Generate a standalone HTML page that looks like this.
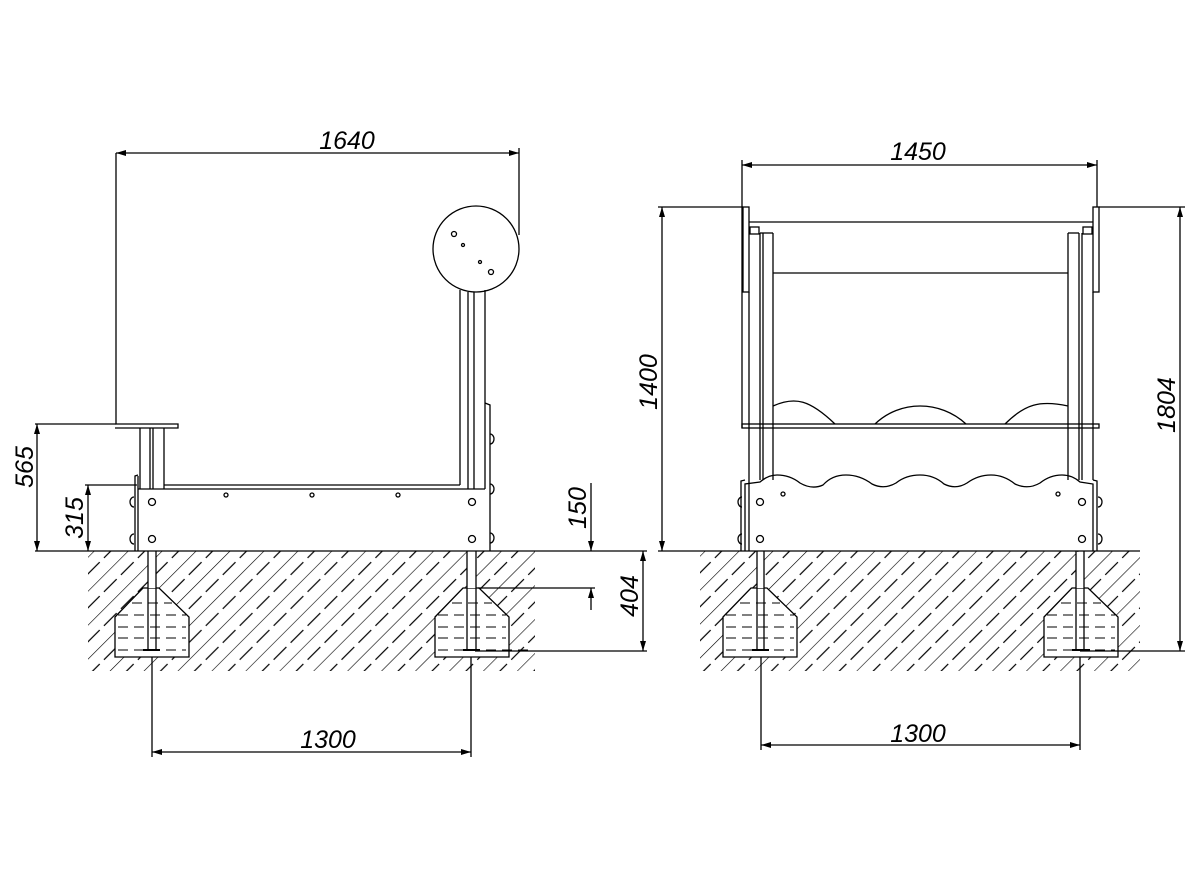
<!DOCTYPE html>
<html><head><meta charset="utf-8"><style>
html,body{margin:0;padding:0;background:#fff}
svg{display:block}
text{font-family:"Liberation Sans",sans-serif;font-style:italic;font-size:25px;fill:#000}
</style></head><body>
<svg width="1200" height="895" viewBox="0 0 1200 895" xmlns="http://www.w3.org/2000/svg">
<defs>
<pattern id="h" width="24" height="24" patternUnits="userSpaceOnUse" patternTransform="rotate(45)">
<line x1="0" y1="0" x2="0" y2="24" stroke="#000" stroke-width="1.2"/>
<line x1="12" y1="0" x2="12" y2="24" stroke="#000" stroke-width="1.2" stroke-dasharray="9 6"/>
</pattern>
<marker id="a" viewBox="0 0 10 6" refX="10" refY="3" markerWidth="10" markerHeight="6" orient="auto-start-reverse" markerUnits="userSpaceOnUse"><path d="M0,0 L10,3 L0,6 z" fill="#000"/></marker>
</defs>
<g stroke="#000" stroke-width="1.3" fill="none">
<!-- hatch regions -->
<rect x="88" y="551" width="447" height="120" fill="url(#h)" stroke="none"/>
<rect x="700" y="551" width="440" height="120" fill="url(#h)" stroke="none"/>
<!-- ground lines -->
<line x1="35" y1="551" x2="647" y2="551"/>
<line x1="658" y1="551" x2="1140" y2="551"/>

<!-- LEFT VIEW -->
<!-- footings -->
<g fill="#fff">
<polygon points="115,617 143,588 159,588 189,617 189,657 115,657"/>
<polygon points="435,617 463,588 479,588 509,617 509,657 435,657"/>
<rect x="148" y="552" width="8" height="36" stroke="none"/>
<rect x="467" y="552" width="9" height="36" stroke="none"/>
</g>
<g stroke-dasharray="10 6" stroke-width="1">
<line x1="132" y1="603" x2="172" y2="603"/><line x1="118" y1="615" x2="186" y2="615"/>
<line x1="118" y1="627" x2="186" y2="627"/><line x1="118" y1="638" x2="186" y2="638"/><line x1="118" y1="650" x2="186" y2="650"/>
<line x1="452" y1="603" x2="492" y2="603"/><line x1="438" y1="615" x2="506" y2="615"/>
<line x1="438" y1="627" x2="506" y2="627"/><line x1="438" y1="638" x2="506" y2="638"/><line x1="438" y1="650" x2="530" y2="650"/>
</g>
<line x1="148" y1="551" x2="148" y2="650"/><line x1="156" y1="551" x2="156" y2="650"/>
<line x1="143" y1="650" x2="160" y2="650" stroke-width="2"/>
<line x1="467" y1="551" x2="467" y2="650"/><line x1="476" y1="551" x2="476" y2="650"/>
<line x1="463" y1="650" x2="480" y2="650" stroke-width="2"/>
<!-- circle -->
<circle cx="476" cy="249" r="43"/>
<circle cx="454" cy="234" r="2.5"/><circle cx="463" cy="245" r="1.5"/><circle cx="480" cy="262" r="1.5"/><circle cx="491" cy="272" r="2.5"/>
<!-- posts -->
<line x1="460" y1="290" x2="460" y2="485"/><line x1="468" y1="292" x2="468" y2="489"/><line x1="474" y1="292" x2="474" y2="489"/><line x1="485" y1="290" x2="485" y2="489"/>
<polyline points="485,403 490,405 490,551"/>
<path d="M490,434 a4,5 0 0 1 0,10 M490,484 a4,5 0 0 1 0,10 M490,533 a4,5 0 0 1 0,10"/>
<!-- seat -->
<polyline points="116,153 116,424 178,424 178,428 115,428"/>
<line x1="140" y1="428" x2="140" y2="489"/><line x1="150" y1="428" x2="150" y2="489"/><line x1="153" y1="428" x2="153" y2="489"/><line x1="164" y1="428" x2="164" y2="489"/>
<!-- box -->
<polyline points="135,551 135,476 138,475"/>
<line x1="138" y1="476" x2="138" y2="551"/>
<path d="M134,497 a4,5 0 0 0 0,10 M134,534 a4,5 0 0 0 0,10"/>
<line x1="138" y1="489" x2="485" y2="489"/>
<line x1="164" y1="485" x2="460" y2="485"/>
<circle cx="152" cy="502" r="3.5"/><circle cx="152" cy="539" r="3.5"/><circle cx="472" cy="502" r="3.5"/><circle cx="472" cy="539" r="3.5"/>
<circle cx="226" cy="495" r="2"/><circle cx="312" cy="495" r="2"/><circle cx="398" cy="495" r="2"/>
<!-- left dims -->
<line x1="116" y1="153" x2="519" y2="153" marker-start="url(#a)" marker-end="url(#a)"/>
<line x1="519" y1="148" x2="519" y2="235"/>
<line x1="35" y1="424" x2="116" y2="424"/>
<line x1="37" y1="424" x2="37" y2="551" marker-start="url(#a)" marker-end="url(#a)"/>
<line x1="85" y1="485" x2="137" y2="485"/>
<line x1="88" y1="485" x2="88" y2="551" marker-start="url(#a)" marker-end="url(#a)"/>
<line x1="591" y1="483" x2="591" y2="551" marker-end="url(#a)"/>
<line x1="591" y1="588" x2="591" y2="610" marker-start="url(#a)"/>
<line x1="478" y1="588" x2="595" y2="588"/>
<line x1="475" y1="651" x2="647" y2="651"/>
<line x1="643" y1="551" x2="643" y2="651" marker-start="url(#a)" marker-end="url(#a)"/>
<line x1="152" y1="657" x2="152" y2="757"/><line x1="471" y1="657" x2="471" y2="757"/>
<line x1="152" y1="752" x2="471" y2="752" marker-start="url(#a)" marker-end="url(#a)"/>

<!-- RIGHT VIEW -->
<g fill="#fff">
<polygon points="723,617 751,588 767,588 797,617 797,657 723,657"/>
<polygon points="1044,617 1072,588 1088,588 1118,617 1118,657 1044,657"/>
<rect x="757" y="552" width="7" height="36" stroke="none"/>
<rect x="1076" y="552" width="8" height="36" stroke="none"/>
</g>
<g stroke-dasharray="10 6" stroke-width="1">
<line x1="740" y1="603" x2="780" y2="603"/><line x1="726" y1="615" x2="794" y2="615"/>
<line x1="726" y1="627" x2="794" y2="627"/><line x1="726" y1="638" x2="794" y2="638"/><line x1="726" y1="650" x2="794" y2="650"/>
<line x1="1061" y1="603" x2="1101" y2="603"/><line x1="1047" y1="615" x2="1115" y2="615"/>
<line x1="1047" y1="627" x2="1115" y2="627"/><line x1="1047" y1="638" x2="1115" y2="638"/><line x1="1047" y1="650" x2="1115" y2="650"/>
</g>
<line x1="757" y1="551" x2="757" y2="650"/><line x1="764" y1="551" x2="764" y2="650"/>
<line x1="752" y1="650" x2="769" y2="650" stroke-width="2"/>
<line x1="1076" y1="551" x2="1076" y2="650"/><line x1="1084" y1="551" x2="1084" y2="650"/>
<line x1="1072" y1="650" x2="1090" y2="650" stroke-width="2"/>
<!-- frame -->
<line x1="742" y1="160" x2="742" y2="428"/>
<rect x="743" y="207" width="6" height="85"/>
<rect x="1093" y="207" width="6" height="85"/>
<line x1="1097" y1="160" x2="1097" y2="207"/>
<line x1="749" y1="222" x2="1093" y2="222"/>
<rect x="750" y="227" width="9" height="7"/><rect x="1083" y="227" width="9" height="7"/>
<line x1="749" y1="292" x2="749" y2="551"/><line x1="760" y1="233" x2="760" y2="480"/><line x1="763" y1="233" x2="763" y2="480"/><line x1="773" y1="233" x2="773" y2="480"/>
<line x1="760" y1="233" x2="773" y2="233"/>
<line x1="1068" y1="233" x2="1068" y2="480"/><line x1="1079" y1="233" x2="1079" y2="480"/><line x1="1082" y1="233" x2="1082" y2="480"/><line x1="1093" y1="292" x2="1093" y2="480"/>
<line x1="1068" y1="233" x2="1079" y2="233"/>
<line x1="773" y1="273" x2="1068" y2="273"/>
<rect x="742" y="424" width="357" height="4"/>
<path d="M773,406 C795,396 810,400 835,424 M875,424 C900,400 940,400 966,424 M1005,424 C1025,404 1040,400 1068,406"/>
<!-- box -->
<path d="M745,551 L745,484 L760,482 Q768,475 777,475 Q790,475 800,483 Q812,490 823,485 Q832,475 846,475 Q860,475 872,484 Q884,490 896,483 Q906,475 920,475 Q934,475 944,484 Q956,490 967,483 Q978,475 991,475 Q1004,475 1015,484 Q1028,490 1040,483 Q1050,475 1062,475 Q1072,475 1080,482 L1093,484 L1093,551"/>
<polyline points="741,551 741,481 745,480"/><polyline points="1097,551 1097,481 1093,480"/>
<path d="M742,497 a4,5 0 0 0 0,10 M742,534 a4,5 0 0 0 0,10 M1098,497 a4,5 0 0 1 0,10 M1098,534 a4,5 0 0 1 0,10"/>
<circle cx="760" cy="502" r="3.5"/><circle cx="760" cy="539" r="3.5"/><circle cx="1082" cy="502" r="3.5"/><circle cx="1082" cy="539" r="3.5"/>
<circle cx="783" cy="494" r="2"/><circle cx="1058" cy="494" r="2"/>
<!-- right dims -->
<line x1="742" y1="165" x2="1097" y2="165" marker-start="url(#a)" marker-end="url(#a)"/>
<line x1="658" y1="207" x2="743" y2="207"/>
<line x1="662" y1="207" x2="662" y2="551" marker-start="url(#a)" marker-end="url(#a)"/>
<line x1="1099" y1="207" x2="1185" y2="207"/>
<line x1="1080" y1="651" x2="1185" y2="651"/>
<line x1="1180" y1="207" x2="1180" y2="651" marker-start="url(#a)" marker-end="url(#a)"/>
<line x1="761" y1="657" x2="761" y2="750"/><line x1="1080" y1="657" x2="1080" y2="750"/>
<line x1="761" y1="745" x2="1080" y2="745" marker-start="url(#a)" marker-end="url(#a)"/>
</g>
<g>
<text x="347" y="149" text-anchor="middle">1640</text>
<text x="328" y="748" text-anchor="middle">1300</text>
<text x="918" y="160" text-anchor="middle">1450</text>
<text x="918" y="742" text-anchor="middle">1300</text>
<text transform="translate(33,467) rotate(-90)" text-anchor="middle">565</text>
<text transform="translate(83,518) rotate(-90)" text-anchor="middle">315</text>
<text transform="translate(586,508) rotate(-90)" text-anchor="middle">150</text>
<text transform="translate(638,596) rotate(-90)" text-anchor="middle">404</text>
<text transform="translate(657,382) rotate(-90)" text-anchor="middle">1400</text>
<text transform="translate(1175,405) rotate(-90)" text-anchor="middle">1804</text>
</g>
</svg>
</body></html>
